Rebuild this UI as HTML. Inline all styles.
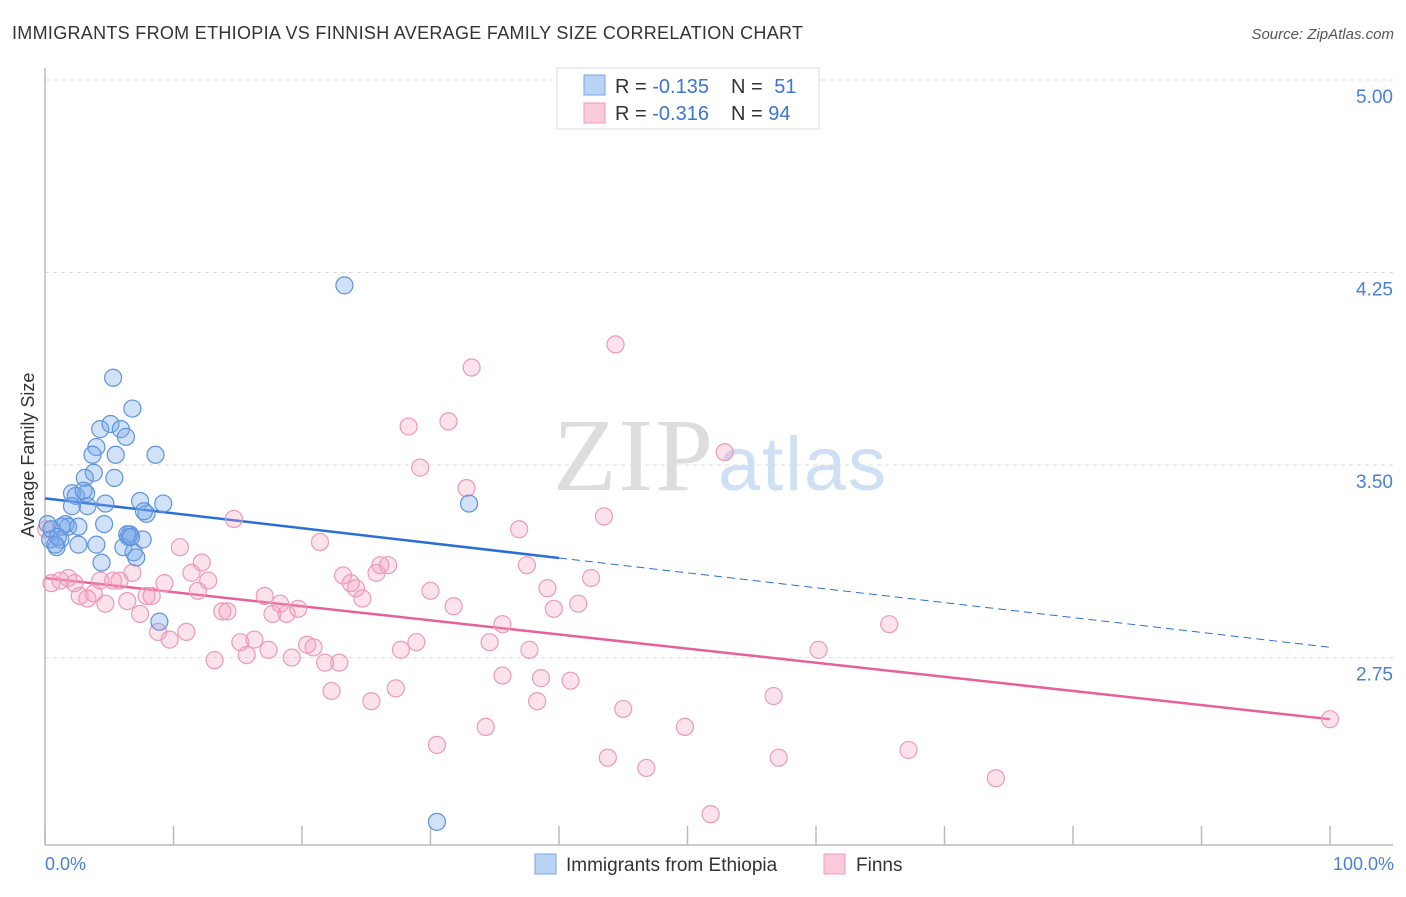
<!DOCTYPE html>
<html><head><meta charset="utf-8"><style>
body{margin:0;background:#fff;font-family:"Liberation Sans",sans-serif;}
svg text{font-family:"Liberation Sans",sans-serif;}
</style></head><body>
<svg id="chart" width="1406" height="892" xmlns="http://www.w3.org/2000/svg">
<text x="12" y="39" font-size="18" fill="#333" textLength="791">IMMIGRANTS FROM ETHIOPIA VS FINNISH AVERAGE FAMILY SIZE CORRELATION CHART</text>
<text x="1394" y="39" font-size="15" fill="#555" font-style="italic" text-anchor="end">Source: ZipAtlas.com</text>
<g>
<text x="553" y="490" font-size="104" fill="#ddd" textLength="160" style="font-family:'Liberation Serif',serif">ZIP</text>
<text x="718" y="490" font-size="76" fill="#cfe0f4" textLength="168">atlas</text>
</g>
<g id="grid"></g><g id="axes"></g><g id="lines"></g><g id="pts"></g>
<text x="34" y="455" font-size="18" fill="#333" transform="rotate(-90 34 455)" text-anchor="middle">Average Family Size</text>
<text x="45" y="870" font-size="18" fill="#4a7fd4">0.0%</text>
<text x="1394" y="870" font-size="18" fill="#4a7fd4" text-anchor="end">100.0%</text>
<g>
<rect x="557" y="68" width="262" height="61" fill="#fff" stroke="#ddd"/>
<rect x="584" y="75" width="21" height="20" fill="#b8d3f5" stroke="#7aa6e6"/>
<rect x="584" y="103" width="21" height="20" fill="#fbcadb" stroke="#f09ab8"/>
<text x="615" y="93" font-size="20" fill="#333">R = <tspan fill="#3b75d0">-0.135</tspan></text>
<text x="731" y="93" font-size="20" fill="#333">N = <tspan fill="#3b75d0" dx="6">51</tspan></text>
<text x="615" y="120" font-size="20" fill="#333">R = <tspan fill="#3b75d0">-0.316</tspan></text>
<text x="731" y="120" font-size="20" fill="#333">N = <tspan fill="#3b75d0">94</tspan></text>
</g>
<g>
<rect x="535" y="854" width="21" height="20" fill="#b8d3f5" stroke="#7aa6e6"/>
<text x="566" y="871" font-size="19" fill="#333">Immigrants from Ethiopia</text>
<rect x="824" y="854" width="21" height="20" fill="#fbcadb" stroke="#f09ab8"/>
<text x="856" y="871" font-size="19" fill="#333">Finns</text>
</g>
</svg>
<script>
const yTicks=[5.00,4.25,3.50,2.75];
const xTicks=[0,10,20,30,40,50,60,70,80,90,100];
const blueX=[5.3,6.8,4.3,5.1,5.9,6.3,4.0,3.7,5.5,8.6,3.8,3.1,5.4,2.1,3.2,2.4,3.3,3.0,4.7,7.4,9.2,7.9,7.7,2.1,1.6,1.8,2.6,1.3,4.6,6.6,6.5,7.6,1.2,0.9,0.4,2.6,4.0,6.1,6.9,7.1,4.4,8.9,23.3,33.0,30.5,0.2,0.5,1.0,6.4,6.7,0.8];
const blueY=[3.84,3.72,3.64,3.66,3.64,3.61,3.57,3.54,3.54,3.54,3.47,3.45,3.45,3.39,3.39,3.38,3.34,3.40,3.35,3.36,3.35,3.31,3.32,3.34,3.27,3.26,3.26,3.26,3.27,3.23,3.22,3.21,3.21,3.18,3.21,3.19,3.19,3.18,3.16,3.14,3.12,2.89,4.20,3.35,2.11,3.27,3.25,3.22,3.23,3.22,3.19];
const pinkX=[0.1,0.5,1.2,1.8,2.3,2.7,3.3,3.8,4.3,4.7,5.3,5.8,6.4,6.8,7.4,7.9,8.3,8.8,9.3,9.7,10.5,11.0,11.4,11.9,12.2,12.7,13.2,13.8,14.2,14.7,15.2,15.7,16.3,17.1,17.4,17.7,18.3,18.8,19.2,19.7,20.4,20.9,21.4,21.8,22.3,22.9,23.2,23.8,24.2,24.7,25.4,25.8,26.1,26.7,27.3,27.7,28.3,28.9,29.2,30.0,30.5,31.4,31.8,32.8,33.2,34.3,34.6,35.6,35.6,36.9,37.5,37.7,38.3,38.6,39.1,39.6,40.9,41.5,42.5,43.5,43.8,44.4,45.0,46.8,49.8,51.8,52.9,56.7,57.1,60.2,65.7,67.2,74.0,100];
const pinkY=[3.25,3.04,3.05,3.06,3.04,2.99,2.98,3.00,3.05,2.96,3.05,3.05,2.97,3.08,2.92,2.99,2.99,2.85,3.04,2.82,3.18,2.85,3.08,3.01,3.12,3.05,2.74,2.93,2.93,3.29,2.81,2.76,2.82,2.99,2.78,2.92,2.96,2.92,2.75,2.94,2.80,2.79,3.20,2.73,2.62,2.73,3.07,3.04,3.02,2.98,2.58,3.08,3.11,3.11,2.63,2.78,3.65,2.81,3.49,3.01,2.41,3.67,2.95,3.41,3.88,2.48,2.81,2.88,2.68,3.25,3.11,2.78,2.58,2.67,3.02,2.94,2.66,2.96,3.06,3.30,2.36,3.97,2.55,2.32,2.48,2.14,3.55,2.60,2.36,2.78,2.88,2.39,2.28,2.51];
const blueLine=[3.37,2.79];
const pinkLine=[3.06,2.51];
const NS="http://www.w3.org/2000/svg";
const sx=v=>45+v*12.85, sy=v=>80+(5-v)*256.7;
function mk(tag,attrs,parent){const e=document.createElementNS(NS,tag);for(const k in attrs)e.setAttribute(k,attrs[k]);document.getElementById(parent).appendChild(e);return e;}
yTicks.forEach(t=>{
  const l=mk('line',{x1:45,x2:1393,y1:sy(t),y2:sy(t),stroke:'#ddd','stroke-dasharray':'4 4'},'grid');
  
  
  const tx=mk('text',{x:1393,y:sy(t)+23,'font-size':19,fill:'#4a7fd4','text-anchor':'end'},'grid');
  tx.textContent=t.toFixed(2);
  
  
});
const ax=mk('line',{x1:45,x2:1393,y1:845,y2:845,stroke:'#bbb','stroke-width':1.5},'axes');


const ay=mk('line',{x1:45,x2:45,y1:68,y2:845,stroke:'#bbb','stroke-width':1.5},'axes');


xTicks.forEach(t=>{
  const l=mk('line',{x1:sx(t),x2:sx(t),y1:826,y2:845,stroke:'#bbb','stroke-width':1.5},'axes');
  
  
});
function lineAt(a,x){return a[0]+(a[1]-a[0])*x/100;}
let b1=mk('line',{x1:sx(0),y1:sy(lineAt(blueLine,0)),x2:sx(40),y2:sy(lineAt(blueLine,40)),stroke:'#2a6fd6','stroke-width':2.5},'lines');


let b2=mk('line',{x1:sx(40),y1:sy(lineAt(blueLine,40)),x2:sx(100),y2:sy(lineAt(blueLine,100)),stroke:'#2a6fd6','stroke-width':1,'stroke-dasharray':'8 5'},'lines');


let p1=mk('line',{x1:sx(0),y1:sy(lineAt(pinkLine,0)),x2:sx(100),y2:sy(lineAt(pinkLine,100)),stroke:'#e8609a','stroke-width':2.5},'lines');


pinkX.forEach((x,i)=>{
  const c=mk('circle',{cx:sx(x),cy:sy(pinkY[i]),r:8.5,fill:'rgba(244,160,190,0.3)',stroke:'#eb9ab9','stroke-width':1.2},'pts');
  
  
});
blueX.forEach((x,i)=>{
  const c=mk('circle',{cx:sx(x),cy:sy(blueY[i]),r:8.5,fill:'rgba(120,170,235,0.35)',stroke:'#5e93dd','stroke-width':1.2},'pts');
  
  
});
</script>
</body></html>
